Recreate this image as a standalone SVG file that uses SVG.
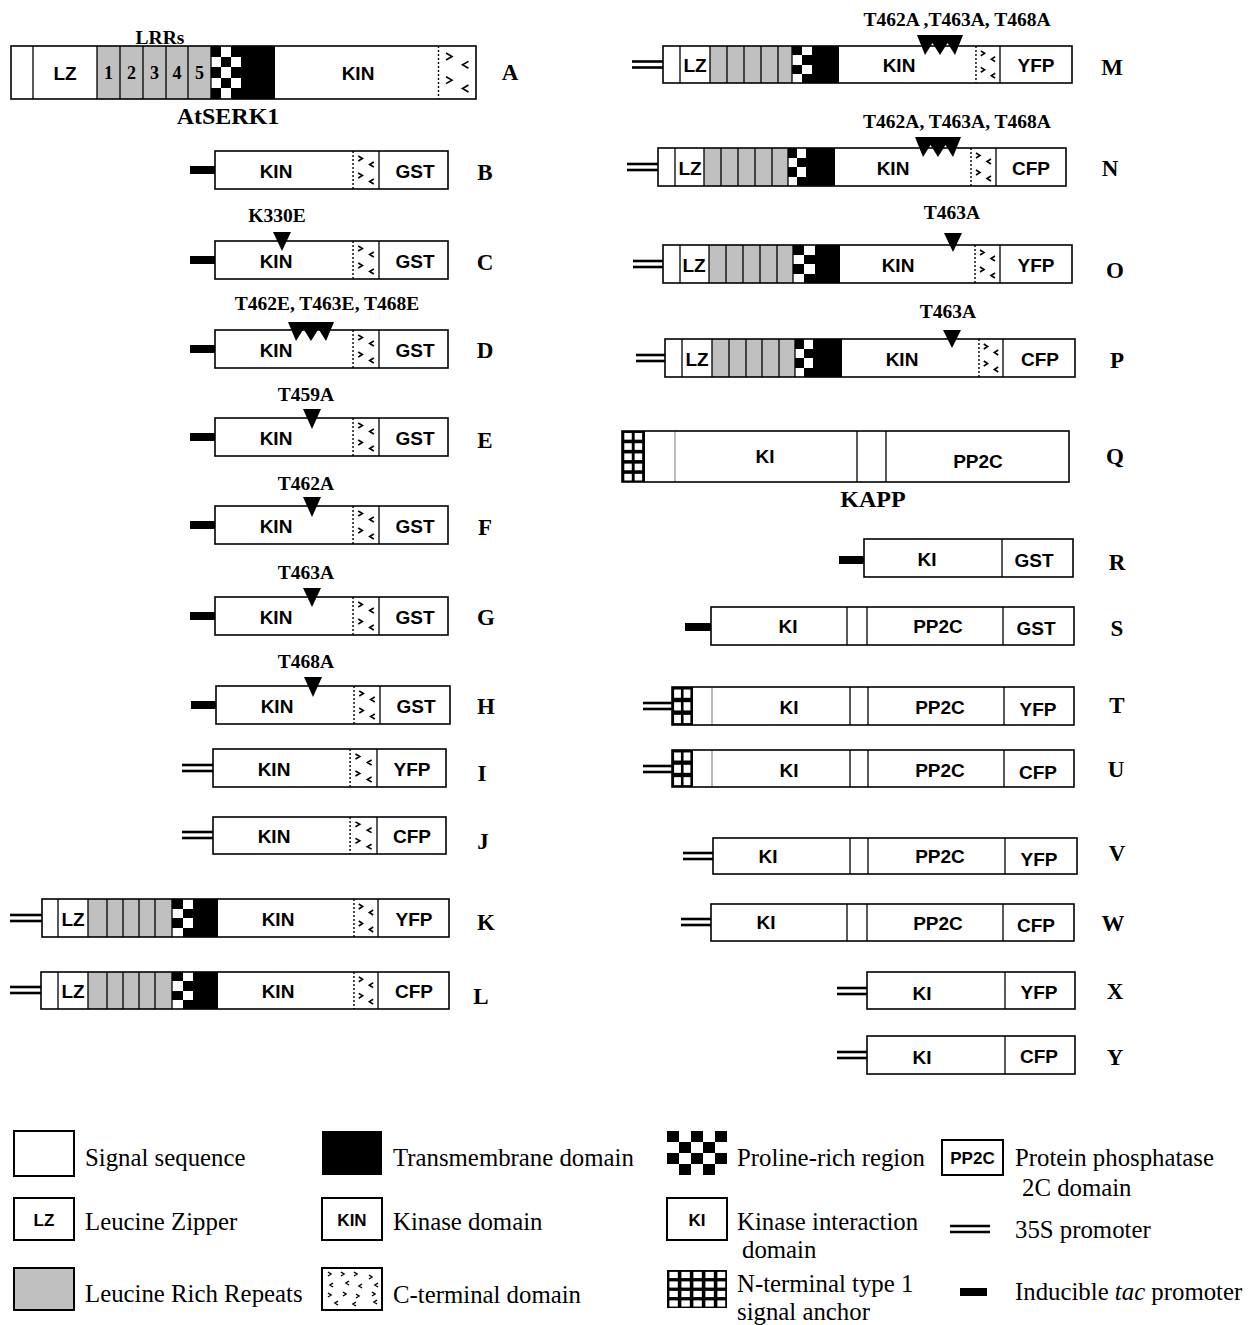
<svg xmlns="http://www.w3.org/2000/svg" xmlns:xlink="http://www.w3.org/1999/xlink" width="1248" height="1325" viewBox="0 0 1248 1325">
<style>
.w{fill:#fff;stroke:none}
.o{fill:none;stroke:#000;stroke-width:1.6}
.lrr{fill:#c0c0c0;stroke:none}
.blk{fill:#000}
.dv{stroke:#000;stroke-width:1.3;fill:none}
.dl{stroke:#777;stroke-width:1;fill:none}
.p35{stroke:#000;stroke-width:2.6}
.tri{fill:#000}
.dom{font-family:"Liberation Sans",Arial,sans-serif;font-weight:bold;font-size:19px;text-anchor:middle}
.lab{font-family:"Liberation Serif","Times New Roman",serif;font-weight:bold;font-size:23px;text-anchor:middle}
.mut{font-family:"Liberation Serif","Times New Roman",serif;font-weight:bold;font-size:19.5px;text-anchor:middle}
.num{font-family:"Liberation Serif","Times New Roman",serif;font-weight:bold;font-size:18px;text-anchor:middle}
.ttl{font-family:"Liberation Serif","Times New Roman",serif;font-weight:bold;font-size:24px;text-anchor:middle}
.leg{font-family:"Liberation Serif","Times New Roman",serif;font-size:24.8px}
.lbox{fill:#fff;stroke:#000;stroke-width:2}
</style>
<defs>
<symbol id="ct" viewBox="0 0 26 38" preserveAspectRatio="none">
<rect width="26" height="38" fill="#fff"/>
<line x1="1" y1="0" x2="1" y2="38" stroke="#000" stroke-width="1.4" stroke-dasharray="2 2" vector-effect="non-scaling-stroke"/>
<path d="M6,5 l4,2.5 l-4,2.5 M6,22 l4,2.5 l-4,2.5 M21,11 l-4,2.5 l4,2.5 M21,28 l-4,2.5 l4,2.5" stroke="#000" stroke-width="1.6" fill="none" vector-effect="non-scaling-stroke"/>
</symbol>
<symbol id="chk24" viewBox="0 0 2 4" preserveAspectRatio="none" shape-rendering="crispEdges">
<rect width="2" height="4" fill="#fff"/>
<rect x="0" y="0" width="1" height="1"/><rect x="1" y="1" width="1" height="1"/><rect x="0" y="2" width="1" height="1"/><rect x="1" y="3" width="1" height="1"/>
</symbol>
<symbol id="chk35" viewBox="0 0 3 5" preserveAspectRatio="none" shape-rendering="crispEdges">
<rect width="3" height="5" fill="#fff"/>
<rect x="0" y="0" width="1" height="1"/><rect x="2" y="0" width="1" height="1"/><rect x="1" y="1" width="1" height="1"/><rect x="0" y="2" width="1" height="1"/><rect x="2" y="2" width="1" height="1"/><rect x="1" y="3" width="1" height="1"/><rect x="0" y="4" width="1" height="1"/><rect x="2" y="4" width="1" height="1"/>
</symbol>
<symbol id="chk54" viewBox="0 0 5 4" preserveAspectRatio="none" shape-rendering="crispEdges">
<rect width="5" height="4" fill="#fff"/>
<rect x="0" y="0" width="1" height="1"/><rect x="2" y="0" width="1" height="1"/><rect x="4" y="0" width="1" height="1"/><rect x="1" y="1" width="1" height="1"/><rect x="3" y="1" width="1" height="1"/><rect x="0" y="2" width="1" height="1"/><rect x="2" y="2" width="1" height="1"/><rect x="4" y="2" width="1" height="1"/><rect x="1" y="3" width="1" height="1"/><rect x="3" y="3" width="1" height="1"/>
</symbol>
<symbol id="grid23" viewBox="0 0 20 30" preserveAspectRatio="none">
<rect width="20" height="30" fill="#000"/>
<g fill="#fff"><rect x="2" y="2" width="6.5" height="6.5"/><rect x="11" y="2" width="6.5" height="6.5"/><rect x="2" y="12" width="6.5" height="6.5"/><rect x="11" y="12" width="6.5" height="6.5"/><rect x="2" y="22" width="6.5" height="6.5"/><rect x="11" y="22" width="6.5" height="6.5"/></g>
</symbol>
<symbol id="grid25" viewBox="0 0 20 50" preserveAspectRatio="none">
<rect width="20" height="50" fill="#000"/>
<g fill="#fff"><rect x="2" y="2" width="6.5" height="6.5"/><rect x="11" y="2" width="6.5" height="6.5"/><rect x="2" y="12" width="6.5" height="6.5"/><rect x="11" y="12" width="6.5" height="6.5"/><rect x="2" y="22" width="6.5" height="6.5"/><rect x="11" y="22" width="6.5" height="6.5"/><rect x="2" y="32" width="6.5" height="6.5"/><rect x="11" y="32" width="6.5" height="6.5"/><rect x="2" y="42" width="6.5" height="6.5"/><rect x="11" y="42" width="6.5" height="6.5"/></g>
</symbol>
<symbol id="grid54" viewBox="0 0 50 40" preserveAspectRatio="none">
<rect width="50" height="40" fill="#000"/>
<g fill="#fff">
<rect x="2" y="2" width="7" height="6.5"/><rect x="12" y="2" width="7" height="6.5"/><rect x="22" y="2" width="7" height="6.5"/><rect x="32" y="2" width="7" height="6.5"/><rect x="42" y="2" width="6.5" height="6.5"/>
<rect x="2" y="12" width="7" height="6.5"/><rect x="12" y="12" width="7" height="6.5"/><rect x="22" y="12" width="7" height="6.5"/><rect x="32" y="12" width="7" height="6.5"/><rect x="42" y="12" width="6.5" height="6.5"/>
<rect x="2" y="22" width="7" height="6.5"/><rect x="12" y="22" width="7" height="6.5"/><rect x="22" y="22" width="7" height="6.5"/><rect x="32" y="22" width="7" height="6.5"/><rect x="42" y="22" width="6.5" height="6.5"/>
<rect x="2" y="32" width="7" height="6.5"/><rect x="12" y="32" width="7" height="6.5"/><rect x="22" y="32" width="7" height="6.5"/><rect x="32" y="32" width="7" height="6.5"/><rect x="42" y="32" width="6.5" height="6.5"/>
</g>
</symbol>
</defs>
<rect width="1248" height="1325" fill="#fff"/>

<g id="connectors"/>

<!-- A -->
<g id="A">
<rect class="w" x="11" y="46" width="465" height="53"/>
<rect class="lrr" x="97" y="46" width="114" height="53"/>
<use href="#chk35" x="211" y="46" width="30" height="53"/>
<rect class="blk" x="241" y="46" width="34" height="53"/>
<use href="#ct" x="437" y="46" width="39" height="53"/>
<path class="dv" d="M33,46V99 M97,46V99 M120,46V99 M143,46V99 M166,46V99 M188,46V99 M211,46V99"/>
<rect class="o" x="11" y="46" width="465" height="53"/>
<text class="dom" x="65" y="80">LZ</text>
<text class="num" x="108.5" y="79">1</text>
<text class="num" x="131.5" y="79">2</text>
<text class="num" x="154.5" y="79">3</text>
<text class="num" x="177" y="79">4</text>
<text class="num" x="199.5" y="79">5</text>
<text class="dom" x="358" y="80">KIN</text>
<text class="mut" x="160" y="44">LRRs</text>
<text class="ttl" x="228" y="124">AtSERK1</text>
<text class="lab" x="510" y="80">A</text>
</g>

<!-- B -->
<g id="B">
<rect class="blk" x="190" y="166" width="25" height="8"/>
<rect class="w" x="215" y="151" width="233" height="38"/>
<use href="#ct" x="352" y="151" width="27" height="38"/>
<path class="dv" d="M379,151V189"/>
<rect class="o" x="215" y="151" width="233" height="38"/>
<text class="dom" x="276" y="178">KIN</text>
<text class="dom" x="415" y="178">GST</text>
<text class="lab" x="485" y="180">B</text>
</g>

<!-- C -->
<g id="C">
<rect class="blk" x="190" y="256" width="25" height="8"/>
<rect class="w" x="215" y="241" width="233" height="38"/>
<use href="#ct" x="352" y="241" width="27" height="38"/>
<path class="dv" d="M379,241V279"/>
<rect class="o" x="215" y="241" width="233" height="38"/>
<path class="tri" d="M273,232H291L282,251Z"/>
<text class="mut" x="277" y="222">K330E</text>
<text class="dom" x="276" y="268">KIN</text>
<text class="dom" x="415" y="268">GST</text>
<text class="lab" x="485" y="270">C</text>
</g>

<!-- D -->
<g id="D">
<rect class="blk" x="190" y="345" width="25" height="8"/>
<rect class="w" x="215" y="330" width="233" height="38"/>
<use href="#ct" x="352" y="330" width="27" height="38"/>
<path class="dv" d="M379,330V368"/>
<rect class="o" x="215" y="330" width="233" height="38"/>
<path class="tri" d="M288,322H334L326,341L318.5,329L311,341L303.5,329L296,341Z"/>
<text class="mut" x="327" y="310">T462E, T463E, T468E</text>
<text class="dom" x="276" y="357">KIN</text>
<text class="dom" x="415" y="357">GST</text>
<text class="lab" x="485" y="358">D</text>
</g>

<!-- E -->
<g id="E">
<rect class="blk" x="190" y="433" width="25" height="8"/>
<rect class="w" x="215" y="418" width="233" height="38"/>
<use href="#ct" x="352" y="418" width="27" height="38"/>
<path class="dv" d="M379,418V456"/>
<rect class="o" x="215" y="418" width="233" height="38"/>
<path class="tri" d="M303,409H321L312,429Z"/>
<text class="mut" x="306" y="401">T459A</text>
<text class="dom" x="276" y="445">KIN</text>
<text class="dom" x="415" y="445">GST</text>
<text class="lab" x="485" y="448">E</text>
</g>

<!-- F -->
<g id="F">
<rect class="blk" x="190" y="521" width="25" height="8"/>
<rect class="w" x="215" y="506" width="233" height="38"/>
<use href="#ct" x="352" y="506" width="27" height="38"/>
<path class="dv" d="M379,506V544"/>
<rect class="o" x="215" y="506" width="233" height="38"/>
<path class="tri" d="M303,497H321L312,517Z"/>
<text class="mut" x="306" y="490">T462A</text>
<text class="dom" x="276" y="533">KIN</text>
<text class="dom" x="415" y="533">GST</text>
<text class="lab" x="485" y="535">F</text>
</g>

<!-- G -->
<g id="G">
<rect class="blk" x="190" y="612" width="25" height="8"/>
<rect class="w" x="215" y="597" width="233" height="38"/>
<use href="#ct" x="352" y="597" width="27" height="38"/>
<path class="dv" d="M379,597V635"/>
<rect class="o" x="215" y="597" width="233" height="38"/>
<path class="tri" d="M303,588H321L312,607Z"/>
<text class="mut" x="306" y="579">T463A</text>
<text class="dom" x="276" y="624">KIN</text>
<text class="dom" x="415" y="624">GST</text>
<text class="lab" x="486" y="625">G</text>
</g>

<!-- H -->
<g id="H">
<rect class="blk" x="191" y="701" width="25" height="8"/>
<rect class="w" x="216" y="686" width="234" height="38"/>
<use href="#ct" x="353" y="686" width="27" height="38"/>
<path class="dv" d="M380,686V724"/>
<rect class="o" x="216" y="686" width="234" height="38"/>
<path class="tri" d="M304,677H322L313,697Z"/>
<text class="mut" x="306" y="668">T468A</text>
<text class="dom" x="277" y="713">KIN</text>
<text class="dom" x="416" y="713">GST</text>
<text class="lab" x="486" y="714">H</text>
</g>

<!-- I -->
<g id="I">
<line class="p35" x1="182" y1="765" x2="213" y2="765"/>
<line class="p35" x1="182" y1="771" x2="213" y2="771"/>
<rect class="w" x="213" y="749" width="233" height="38"/>
<use href="#ct" x="349" y="749" width="28" height="38"/>
<path class="dv" d="M377,749V787"/>
<rect class="o" x="213" y="749" width="233" height="38"/>
<text class="dom" x="274" y="776">KIN</text>
<text class="dom" x="412" y="776">YFP</text>
<text class="lab" x="482" y="781">I</text>
</g>

<!-- J -->
<g id="J">
<line class="p35" x1="182" y1="832" x2="213" y2="832"/>
<line class="p35" x1="182" y1="838" x2="213" y2="838"/>
<rect class="w" x="213" y="817" width="233" height="37"/>
<use href="#ct" x="349" y="817" width="28" height="37"/>
<path class="dv" d="M377,817V854"/>
<rect class="o" x="213" y="817" width="233" height="37"/>
<text class="dom" x="274" y="843">KIN</text>
<text class="dom" x="412" y="843">CFP</text>
<text class="lab" x="483" y="849">J</text>
</g>

<!-- K -->
<g id="K">
<line class="p35" x1="10" y1="915" x2="42" y2="915"/>
<line class="p35" x1="10" y1="921" x2="42" y2="921"/>
<rect class="w" x="42" y="899" width="407" height="38"/>
<rect class="lrr" x="88" y="899" width="84" height="38"/>
<use href="#chk24" x="172" y="899" width="21" height="38"/>
<rect class="blk" x="193" y="899" width="25" height="38"/>
<use href="#ct" x="353" y="899" width="25" height="38"/>
<path class="dv" d="M58,899V937 M88,899V937 M107,899V937 M123,899V937 M139,899V937 M155,899V937 M172,899V937 M378,899V937"/>
<rect class="o" x="42" y="899" width="407" height="38"/>
<text class="dom" x="73" y="926">LZ</text>
<text class="dom" x="278" y="926">KIN</text>
<text class="dom" x="414" y="926">YFP</text>
<text class="lab" x="486" y="930">K</text>
</g>

<!-- L -->
<g id="L">
<line class="p35" x1="10" y1="987" x2="41" y2="987"/>
<line class="p35" x1="10" y1="993" x2="41" y2="993"/>
<rect class="w" x="41" y="972" width="408" height="37"/>
<rect class="lrr" x="88" y="972" width="84" height="37"/>
<use href="#chk24" x="172" y="972" width="21" height="37"/>
<rect class="blk" x="193" y="972" width="25" height="37"/>
<use href="#ct" x="353" y="972" width="25" height="37"/>
<path class="dv" d="M58,972V1009 M88,972V1009 M107,972V1009 M123,972V1009 M139,972V1009 M155,972V1009 M172,972V1009 M378,972V1009"/>
<rect class="o" x="41" y="972" width="408" height="37"/>
<text class="dom" x="73" y="998">LZ</text>
<text class="dom" x="278" y="998">KIN</text>
<text class="dom" x="414" y="998">CFP</text>
<text class="lab" x="481" y="1004">L</text>
</g>

<!-- M -->
<g id="M">
<line class="p35" x1="632" y1="61.5" x2="663" y2="61.5"/>
<line class="p35" x1="632" y1="67.5" x2="663" y2="67.5"/>
<rect class="w" x="663" y="46" width="409" height="37"/>
<rect class="lrr" x="710" y="46" width="82" height="37"/>
<use href="#chk24" x="792" y="46" width="20" height="37"/>
<rect class="blk" x="812" y="46" width="27" height="37"/>
<use href="#ct" x="975" y="46" width="25" height="37"/>
<path class="dv" d="M680,46V83 M710,46V83 M727,46V83 M744,46V83 M761,46V83 M778,46V83 M792,46V83 M1000,46V83"/>
<rect class="o" x="663" y="46" width="409" height="37"/>
<path class="tri" d="M917,35H963L955,55L947.5,43L940,55L932.5,43L925,55Z"/>
<text class="mut" x="957" y="26">T462A ,T463A, T468A</text>
<text class="dom" x="695" y="72">LZ</text>
<text class="dom" x="899" y="72">KIN</text>
<text class="dom" x="1036" y="72">YFP</text>
<text class="lab" x="1112" y="75">M</text>
</g>

<!-- N -->
<g id="N">
<line class="p35" x1="627" y1="164" x2="658" y2="164"/>
<line class="p35" x1="627" y1="170" x2="658" y2="170"/>
<rect class="w" x="658" y="148" width="408" height="38"/>
<rect class="lrr" x="704" y="148" width="84" height="38"/>
<use href="#chk24" x="788" y="148" width="18" height="38"/>
<rect class="blk" x="806" y="148" width="29" height="38"/>
<use href="#ct" x="970" y="148" width="26" height="38"/>
<path class="dv" d="M675,148V186 M704,148V186 M721,148V186 M738,148V186 M755,148V186 M772,148V186 M788,148V186 M996,148V186"/>
<rect class="o" x="658" y="148" width="408" height="38"/>
<path class="tri" d="M915,137H961L953,157L945.5,145L938,157L930.5,145L923,157Z"/>
<text class="mut" x="957" y="128">T462A, T463A, T468A</text>
<text class="dom" x="690" y="175">LZ</text>
<text class="dom" x="893" y="175">KIN</text>
<text class="dom" x="1031" y="175">CFP</text>
<text class="lab" x="1110" y="176">N</text>
</g>

<!-- O -->
<g id="O">
<line class="p35" x1="633" y1="261" x2="663" y2="261"/>
<line class="p35" x1="633" y1="267" x2="663" y2="267"/>
<rect class="w" x="663" y="245" width="409" height="38"/>
<rect class="lrr" x="709" y="245" width="84" height="38"/>
<use href="#chk24" x="793" y="245" width="22" height="38"/>
<rect class="blk" x="815" y="245" width="25" height="38"/>
<use href="#ct" x="974" y="245" width="26" height="38"/>
<path class="dv" d="M680,245V283 M709,245V283 M726,245V283 M743,245V283 M760,245V283 M777,245V283 M793,245V283 M1000,245V283"/>
<rect class="o" x="663" y="245" width="409" height="38"/>
<path class="tri" d="M944,233H962L953,252Z"/>
<text class="mut" x="952" y="219">T463A</text>
<text class="dom" x="694" y="272">LZ</text>
<text class="dom" x="898" y="272">KIN</text>
<text class="dom" x="1036" y="272">YFP</text>
<text class="lab" x="1115" y="278">O</text>
</g>

<!-- P -->
<g id="P">
<line class="p35" x1="636" y1="355" x2="665" y2="355"/>
<line class="p35" x1="636" y1="361" x2="665" y2="361"/>
<rect class="w" x="665" y="339" width="410" height="38"/>
<rect class="lrr" x="712" y="339" width="83" height="38"/>
<use href="#chk24" x="795" y="339" width="18" height="38"/>
<rect class="blk" x="813" y="339" width="29" height="38"/>
<use href="#ct" x="978" y="339" width="25" height="38"/>
<path class="dv" d="M682,339V377 M712,339V377 M729,339V377 M746,339V377 M762,339V377 M779,339V377 M795,339V377 M1003,339V377"/>
<rect class="o" x="665" y="339" width="410" height="38"/>
<path class="tri" d="M943,330H961L952,348Z"/>
<text class="mut" x="948" y="318">T463A</text>
<text class="dom" x="697" y="366">LZ</text>
<text class="dom" x="902" y="366">KIN</text>
<text class="dom" x="1040" y="366">CFP</text>
<text class="lab" x="1117" y="368">P</text>
</g>

<!-- Q -->
<g id="Q">
<rect class="w" x="622" y="431" width="447" height="51"/>
<use href="#grid25" x="622" y="431" width="23" height="51"/>
<path class="dl" d="M675,431V482"/>
<path class="dv" d="M857,431V482 M886,431V482"/>
<rect class="o" x="622" y="431" width="447" height="51"/>
<text class="dom" x="765" y="463">KI</text>
<text class="dom" x="978" y="468">PP2C</text>
<text class="ttl" x="873" y="507">KAPP</text>
<text class="lab" x="1115" y="464">Q</text>
</g>

<!-- R -->
<g id="R">
<rect class="blk" x="839" y="556" width="25" height="8"/>
<rect class="w" x="864" y="539" width="209" height="38"/>
<path class="dv" d="M1002,539V577"/>
<rect class="o" x="864" y="539" width="209" height="38"/>
<text class="dom" x="927" y="566">KI</text>
<text class="dom" x="1034" y="567">GST</text>
<text class="lab" x="1117" y="570">R</text>
</g>

<!-- S -->
<g id="S">
<rect class="blk" x="685" y="623" width="26" height="8"/>
<rect class="w" x="711" y="607" width="363" height="38"/>
<path class="dv" d="M847,607V645 M867,607V645 M1003,607V645"/>
<rect class="o" x="711" y="607" width="363" height="38"/>
<text class="dom" x="788" y="633">KI</text>
<text class="dom" x="938" y="633">PP2C</text>
<text class="dom" x="1036" y="635">GST</text>
<text class="lab" x="1117" y="636">S</text>
</g>

<!-- T -->
<g id="T">
<line class="p35" x1="643" y1="703" x2="672" y2="703"/>
<line class="p35" x1="643" y1="709" x2="672" y2="709"/>
<rect class="w" x="672" y="687" width="402" height="38"/>
<use href="#grid23" x="672" y="687" width="21" height="38"/>
<path class="dl" d="M712,687V725"/>
<path class="dv" d="M850,687V725 M868,687V725 M1004,687V725"/>
<rect class="o" x="672" y="687" width="402" height="38"/>
<text class="dom" x="789" y="714">KI</text>
<text class="dom" x="940" y="714">PP2C</text>
<text class="dom" x="1038" y="716">YFP</text>
<text class="lab" x="1117" y="713">T</text>
</g>

<!-- U -->
<g id="U">
<line class="p35" x1="643" y1="766" x2="672" y2="766"/>
<line class="p35" x1="643" y1="772" x2="672" y2="772"/>
<rect class="w" x="672" y="750" width="402" height="37"/>
<use href="#grid23" x="672" y="750" width="21" height="37"/>
<path class="dl" d="M712,750V787"/>
<path class="dv" d="M850,750V787 M868,750V787 M1004,750V787"/>
<rect class="o" x="672" y="750" width="402" height="37"/>
<text class="dom" x="789" y="777">KI</text>
<text class="dom" x="940" y="777">PP2C</text>
<text class="dom" x="1038" y="779">CFP</text>
<text class="lab" x="1116" y="777">U</text>
</g>

<!-- V -->
<g id="V">
<line class="p35" x1="683" y1="853" x2="713" y2="853"/>
<line class="p35" x1="683" y1="859" x2="713" y2="859"/>
<rect class="w" x="713" y="838" width="364" height="36"/>
<path class="dv" d="M850,838V874 M868,838V874 M1005,838V874"/>
<rect class="o" x="713" y="838" width="364" height="36"/>
<text class="dom" x="768" y="863">KI</text>
<text class="dom" x="940" y="863">PP2C</text>
<text class="dom" x="1039" y="866">YFP</text>
<text class="lab" x="1117" y="861">V</text>
</g>

<!-- W -->
<g id="W">
<line class="p35" x1="681" y1="919" x2="711" y2="919"/>
<line class="p35" x1="681" y1="925" x2="711" y2="925"/>
<rect class="w" x="711" y="904" width="363" height="37"/>
<path class="dv" d="M847,904V941 M867,904V941 M1003,904V941"/>
<rect class="o" x="711" y="904" width="363" height="37"/>
<text class="dom" x="766" y="929">KI</text>
<text class="dom" x="938" y="930">PP2C</text>
<text class="dom" x="1036" y="932">CFP</text>
<text class="lab" x="1113" y="931">W</text>
</g>

<!-- X -->
<g id="X">
<line class="p35" x1="837" y1="988" x2="867" y2="988"/>
<line class="p35" x1="837" y1="994" x2="867" y2="994"/>
<rect class="w" x="867" y="972" width="208" height="37"/>
<path class="dv" d="M1005,972V1009"/>
<rect class="o" x="867" y="972" width="208" height="37"/>
<text class="dom" x="922" y="1000">KI</text>
<text class="dom" x="1039" y="999">YFP</text>
<text class="lab" x="1115" y="999">X</text>
</g>

<!-- Y -->
<g id="Y">
<line class="p35" x1="837" y1="1052" x2="867" y2="1052"/>
<line class="p35" x1="837" y1="1058" x2="867" y2="1058"/>
<rect class="w" x="867" y="1036" width="208" height="38"/>
<path class="dv" d="M1005,1036V1074"/>
<rect class="o" x="867" y="1036" width="208" height="38"/>
<text class="dom" x="922" y="1064">KI</text>
<text class="dom" x="1039" y="1063">CFP</text>
<text class="lab" x="1115" y="1065">Y</text>
</g>

<!-- Legend -->
<g id="legend">
<g id="leg-signal">
<rect class="lbox" x="14" y="1131" width="60" height="45"/>
<text class="leg" x="85" y="1166">Signal sequence</text>
</g>
<g id="leg-tm">
<rect class="blk" x="322" y="1131" width="60" height="44"/>
<text class="leg" x="393" y="1166">Transmembrane domain</text>
</g>
<g id="leg-pro">
<use href="#chk54" x="667" y="1131" width="60" height="44"/>
<text class="leg" x="737" y="1166">Proline-rich region</text>
</g>
<g id="leg-pp2c">
<rect class="lbox" x="942" y="1140" width="61" height="35"/>
<text class="dom" x="972.5" y="1164" style="font-size:17px">PP2C</text>
<text class="leg" x="1015" y="1166">Protein phosphatase</text>
<text class="leg" x="1022" y="1196">2C domain</text>
</g>
<g id="leg-lz">
<rect class="lbox" x="14" y="1198" width="60" height="42"/>
<text class="dom" x="44" y="1226" style="font-size:17px">LZ</text>
<text class="leg" x="85" y="1230">Leucine Zipper</text>
</g>
<g id="leg-kin">
<rect class="lbox" x="322" y="1198" width="60" height="42"/>
<text class="dom" x="352" y="1226" style="font-size:17px">KIN</text>
<text class="leg" x="393" y="1230">Kinase domain</text>
</g>
<g id="leg-ki">
<rect class="lbox" x="667" y="1198" width="60" height="42"/>
<text class="dom" x="697" y="1226" style="font-size:17px">KI</text>
<text class="leg" x="737" y="1230">Kinase interaction</text>
<text class="leg" x="742" y="1258">domain</text>
</g>
<g id="leg-35s">
<line class="p35" x1="950" y1="1226" x2="990" y2="1226"/>
<line class="p35" x1="950" y1="1232" x2="990" y2="1232"/>
<text class="leg" x="1015" y="1238">35S promoter</text>
</g>
<g id="leg-lrr">
<rect x="14" y="1268" width="60" height="42" fill="#c0c0c0" stroke="#000" stroke-width="2"/>
<text class="leg" x="85" y="1302">Leucine Rich Repeats</text>
</g>
<g id="leg-ct">
<rect class="lbox" x="322" y="1268" width="60" height="42"/>
<path d="M328,1272 l3,2 l-3,2 M341,1272 l3,2 l-3,2 M354,1272 l3,2 l-3,2 M369,1275 l3,2 l-3,2 M333,1283 l-3,2 l3,2 M349,1281 l-3,2 l3,2 M362,1284 l-3,2 l3,2 M378,1283 l-3,2 l3,2 M328,1293 l3,2 l-3,2 M343,1292 l3,2 l-3,2 M356,1294 l3,2 l-3,2 M372,1292 l3,2 l-3,2 M338,1301 l-3,2 l3,2 M356,1302 l-3,2 l3,2 M377,1300 l-3,2 l3,2" stroke="#000" stroke-width="1.5" fill="none"/>
<text class="leg" x="393" y="1303">C-terminal domain</text>
</g>
<g id="leg-anchor">
<use href="#grid54" x="667" y="1270" width="60" height="38"/>
<text class="leg" x="737" y="1292">N-terminal type 1</text>
<text class="leg" x="737" y="1320">signal anchor</text>
</g>
<g id="leg-tac">
<rect class="blk" x="960" y="1288" width="27" height="8"/>
<text class="leg" x="1015" y="1300">Inducible <tspan font-style="italic">tac</tspan> promoter</text>
</g>
</g>
</svg>
